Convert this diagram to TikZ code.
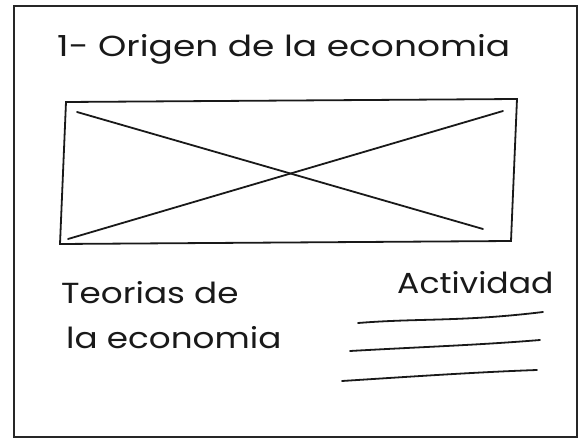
\documentclass[tikz,border=0pt]{standalone}
\usepackage{fontspec}
\setmainfont{Poppins}
\begin{document}
\begin{tikzpicture}[x=1pt,y=-1pt,
  frame/.style={draw=black!85, line width=1.3pt},
  ink/.style={draw=black!90, line width=1.8pt, line cap=round},
  hand/.style={anchor=base west, inner sep=0pt, font=\fontsize{29}{29}\selectfont, text=black!90}]
\useasboundingbox (0,0) rectangle (581,441);
% outer frame
\coordinate (f1) at (14,6); \coordinate (f2) at (577,6);
\coordinate (f3) at (577,437); \coordinate (f4) at (14,437);
\draw[frame] (f1) -- (f2) -- (f3) -- (f4) -- cycle;
% title
\node[hand, xscale=1.24] (title) at (57,57) {1- Origen de la economia};
% image placeholder
\coordinate (r1) at (66,102); \coordinate (r2) at (517,99);
\coordinate (r3) at (511,241); \coordinate (r4) at (60,244);
\draw[ink] (r1) -- (r2) -- (r3) -- (r4) -- cycle;
\coordinate (x1) at (77,112); \coordinate (x2) at (483,229);
\coordinate (x3) at (68,239); \coordinate (x4) at (503,111);
\draw[ink] (x1) -- (x2);
\draw[ink] (x3) -- (x4);
% texts
\node[hand, xscale=1.18] (teo1) at (61,303) {Teorias de};
\node[hand, xscale=1.18] (teo2) at (66,348) {la economia};
\node[hand, xscale=1.14] (act) at (397,293) {Actividad};
% lines
\coordinate (l1a) at (358,323); \coordinate (l1b) at (543,312);
\coordinate (l2a) at (350,351); \coordinate (l2b) at (540,340);
\coordinate (l3a) at (342,381); \coordinate (l3b) at (537,370);
\draw[ink] (l1a) .. controls (420,318) and (460,322) .. (l1b);
\draw[ink] (l2a) .. controls (420,347) and (480,345) .. (l2b);
\draw[ink] (l3a) .. controls (420,376) and (480,372) .. (l3b);
\end{tikzpicture}
\end{document}
